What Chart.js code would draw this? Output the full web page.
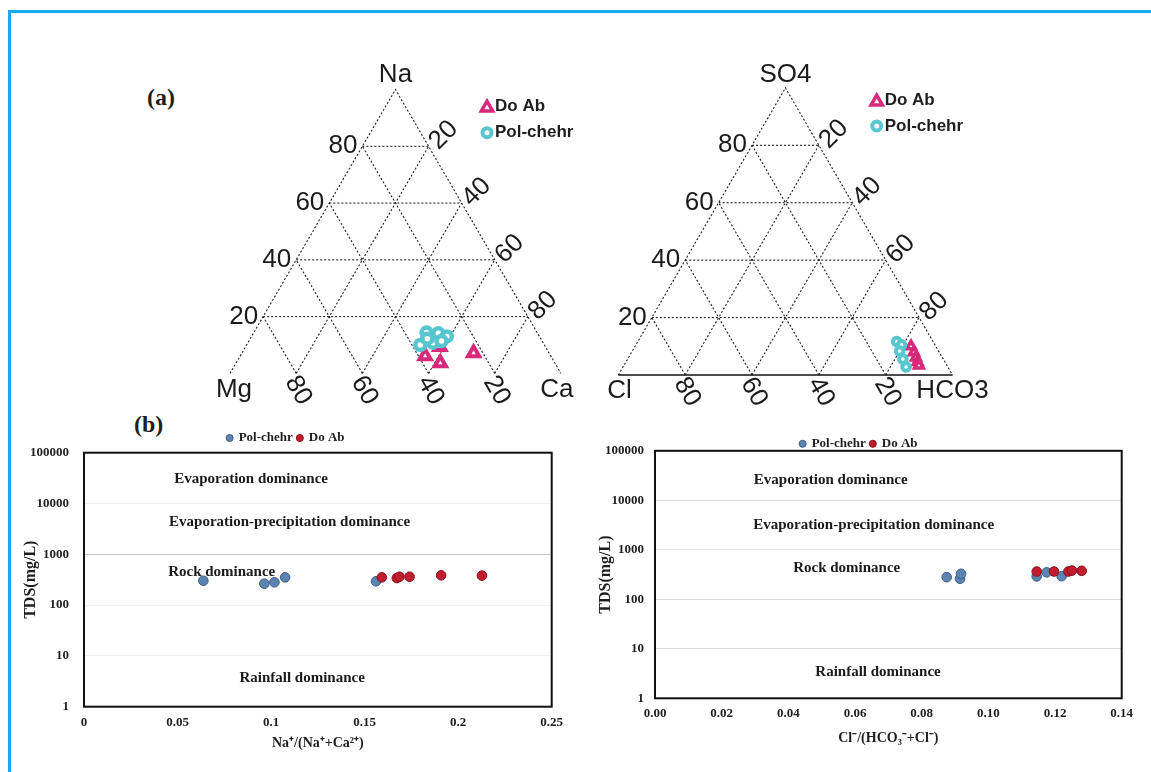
<!DOCTYPE html>
<html>
<head>
<meta charset="utf-8">
<title>Ternary and Gibbs diagrams - Do Ab / Pol-chehr</title>
<script src="https://cdn.jsdelivr.net/npm/chart.js@4.4.1/dist/chart.umd.min.js"></script>
<style>
  html, body { margin: 0; padding: 0; background: #fff; }
  #page { position: relative; width: 1151px; height: 772px; overflow: hidden; background: #fff; }
  #frame { position: absolute; left: 8px; top: 10px; width: 1170px; height: 790px;
           border-top: 3px solid #17aaf0; border-left: 3px solid #17aaf0; }
  .panel { position: absolute; }
  .tag { position: absolute; font: bold 24px 'Liberation Serif', 'Times New Roman', serif; color: #1e1e1e; }
</style>
</head>
<body>
<div id="page">
  <div id="frame"></div>
  <div class="tag" style="left:147px; top:84px;">(a)</div>
  <div class="tag" style="left:134px; top:411px;">(b)</div>
  <div class="panel" style="left:150px; top:50px;"><canvas id="ternCation" width="440" height="370"></canvas></div>
  <div class="panel" style="left:590px; top:50px;"><canvas id="ternAnion" width="440" height="370"></canvas></div>
  <div class="panel" style="left:20px; top:427px;"><canvas id="gibbsNa" width="560" height="333"></canvas></div>
  <div class="panel" style="left:596px; top:432px;"><canvas id="gibbsCl" width="555" height="328"></canvas></div>
</div>

<script>
// ---------- (a) ternary diagrams, % of meq/L ----------
const gridLevels = ['20', '40', '60', '80'];

// cations: top = Na, right = Ca, left = Mg
const polNa = [14.4, 14.1, 13.0, 10.0, 10.8, 11.4, 12.2];
const polCa = [52.2, 55.9, 59.0, 52.5, 55.9, 58.2, 53.5];
const polMg = [33.4, 30.0, 28.0, 37.5, 33.3, 30.4, 34.3];
const doNa = [6.1, 3.7, 7.2, 9.4];
const doCa = [55.9, 61.7, 70.0, 58.7];
const doMg = [38.0, 34.6, 22.8, 31.9];

// anions: top = SO4, right = HCO3, left = Cl
const polSO4 = [11.6, 10.5, 8.3, 5.5, 2.8];
const polHCO3 = [77.5, 79.5, 80.0, 82.4, 84.7];
const polCl = [10.9, 10.0, 11.7, 12.1, 12.5];
const doSO4 = [10.0, 7.9, 6.1, 4.5, 3.3];
const doHCO3 = [82.6, 84.5, 86.0, 87.3, 88.3];
const doCl = [7.4, 7.6, 7.9, 8.2, 8.4];

// ---------- (b) Gibbs diagrams ----------
const tdsTicks = [1, 10, 100, 1000, 10000, 100000];
const naRatioTicks = ['0', '0.05', '0.1', '0.15', '0.2', '0.25'];
const clRatioTicks = ['0.00', '0.02', '0.04', '0.06', '0.08', '0.10', '0.12', '0.14'];
const regionNames = ['Evaporation dominance', 'Evaporation-precipitation dominance', 'Rock dominance', 'Rainfall dominance'];

const naRatioPol = [0.0638, 0.0964, 0.1018, 0.1075, 0.1561];
const tdsPolNa = [302, 264, 281, 352, 294];
const naRatioDo = [0.1592, 0.1672, 0.1686, 0.1740, 0.1909, 0.2127];
const tdsDoNa = [352, 340, 362, 362, 386, 380];

const clRatioPol = [0.0875, 0.0915, 0.0918, 0.1145, 0.1175, 0.1220];
const tdsPolCl = [280, 260, 327, 290, 350, 293];
const clRatioDo = [0.1145, 0.1197, 0.1240, 0.1251, 0.1280];
const tdsDoCl = [364, 364, 364, 380, 376];

const CYAN = '#58c6ce';
const MAGENTA = '#d8297a';
const SANS = "'Liberation Sans', Arial, sans-serif";
const SERIF = "'Liberation Serif', 'Times New Roman', serif";

Chart.defaults.font.family = SERIF;
Chart.defaults.color = '#1e1e1e';

// ternary -> cartesian (x along the base, y up), base length 100
const H = Math.sqrt(3) / 2;
const tern = (top, right) => ({ x: right + top / 2, y: top * H });
const ternPt = (top, right, left) => {
  const s = top + right + left;
  return tern(100 * top / s, 100 * right / s);
};

// labels, corner names and legend of a ternary plot
const ternaryText = {
  id: 'ternaryText',
  afterDraw(chart, args, o) {
    const { ctx, scales: { x, y } } = chart;
    const P = p => [x.getPixelForValue(p.x), y.getPixelForValue(p.y)];
    const put = (txt, px, py, rot, align) => {
      ctx.save();
      ctx.translate(px, py);
      ctx.rotate(rot);
      ctx.textAlign = align;
      ctx.textBaseline = 'middle';
      ctx.fillText(txt, 0, 0);
      ctx.restore();
    };
    ctx.save();
    ctx.fillStyle = '#1b1b1b';
    ctx.font = '26px ' + SANS;
    gridLevels.forEach(lv => {
      const v = Number(lv);
      let [px, py] = P(tern(v, 0));              // left edge: top component
      put(lv, px - 5, py, 0, 'right');
      [px, py] = P(tern(100 - v, v));            // right edge: right component
      put(lv, px + 15, py - 11, -Math.PI / 4, 'center');
      [px, py] = P(tern(0, 100 - v));            // base: left component
      put(lv, px + 2, py + 17, Math.PI / 3, 'center');
    });
    const c = o.corners;
    let [px, py] = P(tern(100, 0));
    put(c[0], px, py - o.topOff, 0, 'center');
    [px, py] = P(tern(0, 0));
    put(c[1], px + o.leftOff, py + 16, 0, 'center');
    [px, py] = P(tern(0, 100));
    put(c[2], px + o.rightOff, py + 16, 0, 'center');

    // legend (triangle = Do Ab, circle = Pol-chehr)
    const ds = chart.data.datasets;
    const lg = o.legend;
    // triangle
    let cx = lg.x, cy = lg.y;
    ctx.beginPath();
    for (let k = 0; k < 3; k++) {
      const a = -Math.PI / 2 + k * 2 * Math.PI / 3;
      const r = 6.5;
      k === 0 ? ctx.moveTo(cx + r * Math.cos(a), cy + 1 + r * Math.sin(a)) : ctx.lineTo(cx + r * Math.cos(a), cy + 1 + r * Math.sin(a));
    }
    ctx.closePath();
    ctx.lineWidth = 3.5;
    ctx.fillStyle = '#fff'; ctx.fill();
    ctx.strokeStyle = MAGENTA; ctx.stroke();
    // circle
    cy = lg.y + lg.dy;
    ctx.beginPath(); ctx.arc(cx, cy, 4.5, 0, 2 * Math.PI);
    ctx.lineWidth = 4;
    ctx.fillStyle = '#fff'; ctx.fill();
    ctx.strokeStyle = CYAN; ctx.stroke();
    ctx.fillStyle = '#1e1e1e';
    ctx.font = 'bold 17px ' + SANS;
    put(ds[1].label, lg.x + 8, lg.y, 0, 'left');
    put(ds[0].label, lg.x + 8, lg.y + lg.dy, 0, 'left');
    ctx.restore();
  }
};

function ternaryChart(id, cfg) {
  const dotted = { showLine: true, pointRadius: 0, borderColor: '#1f1f1f', borderWidth: 1.1, borderDash: [2, 2], order: 10 };
  const segs = [];
  gridLevels.map(Number).forEach(t => {
    segs.push([tern(t, 0), tern(t, 100 - t)]);
    segs.push([tern(0, t), tern(100 - t, t)]);
    segs.push([tern(0, 100 - t), tern(100 - t, 0)]);
  });
  const datasets = [
    { label: 'Pol-chehr', data: cfg.pol, pointStyle: 'circle', pointRadius: cfg.circleR, borderWidth: cfg.circleW,
      borderColor: CYAN, backgroundColor: '#fff', order: 0 },
    { label: 'Do Ab', data: cfg.doab, pointStyle: 'triangle', pointRadius: cfg.triR, borderWidth: cfg.triW,
      borderColor: MAGENTA, backgroundColor: '#fff', order: 1 },
    ...segs.map(s => ({ ...dotted, data: s })),
    { ...dotted, data: [tern(0, 0), tern(100, 0), tern(0, 100)] }
  ];
  if (cfg.solidBase) {
    datasets.push({ showLine: true, pointRadius: 0, borderColor: '#111', borderWidth: 1.5, order: 9,
      data: [tern(0, 0), tern(0, 100)] });
  }
  return new Chart(document.getElementById(id), {
    type: 'scatter',
    data: { datasets },
    options: {
      responsive: false, animation: false, events: [],
      layout: { padding: 0 },
      plugins: { legend: { display: false }, tooltip: { enabled: false }, ternaryText: cfg.text },
      scales: {
        x: { type: 'linear', display: false, min: cfg.xMin, max: cfg.xMin + 440 / 3.475 },
        y: { type: 'linear', display: false, min: -11.02, max: -11.02 + 370 / 3.475 }
      }
    },
    plugins: [ternaryText]
  });
}

ternaryChart('ternCation', {
  xMin: -21.01, circleR: 5, circleW: 4.5, triR: 6.5, triW: 4, solidBase: false,
  pol: polNa.map((v, i) => ternPt(v, polCa[i], polMg[i])),
  doab: doNa.map((v, i) => ternPt(v, doCa[i], doMg[i])),
  text: { corners: ['Na', 'Mg', 'Ca'], topOff: 15, leftOff: 4, rightOff: -4,
          legend: { x: 337, y: 56.7, dy: 26 } }
});

ternaryChart('ternAnion', {
  xMin: -5.96, circleR: 3.8, circleW: 4, triR: 5, triW: 3.5, solidBase: true,
  pol: polSO4.map((v, i) => ternPt(v, polHCO3[i], polCl[i])),
  doab: doSO4.map((v, i) => ternPt(v, doHCO3[i], doCl[i])),
  text: { corners: ['SO4', 'Cl', 'HCO3'], topOff: 13, leftOff: 1, rightOff: 0,
          legend: { x: 286.7, y: 50.7, dy: 25.3 } }
});

// ---------- Gibbs plots ----------
const plotFrame = {
  id: 'plotFrame',
  afterDatasetsDraw(chart) {
    const { ctx, chartArea: a } = chart;
    ctx.save();
    ctx.strokeStyle = '#111';
    ctx.lineWidth = 2;
    ctx.strokeRect(a.left, a.top, a.right - a.left, a.bottom - a.top);
    ctx.restore();
  }
};

const regionLabels = {
  id: 'regionLabels',
  beforeDatasetsDraw(chart, args, o) {
    const { ctx, scales: { x, y } } = chart;
    ctx.save();
    ctx.font = 'bold 15px ' + SERIF;
    ctx.fillStyle = '#1a1a1a';
    ctx.textAlign = 'center';
    ctx.textBaseline = 'middle';
    regionNames.forEach((name, i) => {
      const at = o.at[i];
      ctx.fillText(name, x.getPixelForValue(at[0]), y.getPixelForValue(at[1]));
    });
    ctx.restore();
  }
};

function gibbsChart(id, cfg) {
  return new Chart(document.getElementById(id), {
    type: 'scatter',
    data: {
      datasets: [
        { label: 'Pol-chehr', data: cfg.polX.map((v, i) => ({ x: v, y: cfg.polY[i] })), order: 2,
          backgroundColor: '#5b84b2', borderColor: '#3c5d85', borderWidth: 1, pointRadius: 4.8 },
        { label: 'Do Ab', data: cfg.doX.map((v, i) => ({ x: v, y: cfg.doY[i] })), order: 1,
          backgroundColor: '#c21c2f', borderColor: '#87101f', borderWidth: 1, pointRadius: 4.8 }
      ]
    },
    options: {
      responsive: false, animation: false, events: [],
      layout: { padding: { top: 0, right: cfg.padRight, left: 0, bottom: 0 } },
      plugins: {
        legend: {
          maxHeight: cfg.legendH,
          labels: { usePointStyle: true, pointStyle: 'circle', boxWidth: 5, boxHeight: 5, padding: 4.5,
                    color: '#1e1e1e', font: { size: 13, weight: 'bold' },
                    sort: (a, b) => a.datasetIndex - b.datasetIndex }
        },
        tooltip: { enabled: false },
        regionLabels: { at: cfg.regions }
      },
      scales: {
        x: {
          type: 'linear', min: 0, max: Number(cfg.xTicks[cfg.xTicks.length - 1]),
          grid: { display: false, drawTicks: false }, border: { display: false },
          afterBuildTicks: s => { s.ticks = cfg.xTicks.map(t => ({ value: Number(t) })); },
          afterFit: s => { s.height = cfg.xAxisH; },
          ticks: { autoSkip: false, maxRotation: 0, padding: 8, color: '#1e1e1e',
                   font: { size: 13, weight: 'bold' }, callback: (v, i) => cfg.xTicks[i] },
          title: { display: true, text: cfg.xTitle, color: '#1e1e1e', font: { size: 14, weight: 'bold' },
                   padding: { top: 0, bottom: cfg.xTitlePad } }
        },
        y: {
          type: 'logarithmic', min: 1, max: 100000,
          grid: { drawTicks: false, lineWidth: 1, color: c => (c.tick && c.tick.value === 1000) ? cfg.gridMain : cfg.gridMinor },
          border: { display: false },
          afterBuildTicks: s => { s.ticks = tdsTicks.map(v => ({ value: v })); },
          afterFit: s => { s.width = cfg.yAxisW; },
          ticks: { autoSkip: false, padding: cfg.yTickPad, color: '#1e1e1e', font: { size: 13, weight: 'bold' },
                   callback: v => String(v) },
          title: { display: true, text: 'TDS(mg/L)', color: '#1e1e1e', font: { size: 16, weight: 'bold' },
                   padding: { top: cfg.yTitlePad, bottom: 0 } }
        }
      }
    },
    plugins: [regionLabels, plotFrame]
  });
}

gibbsChart('gibbsNa', {
  polX: naRatioPol, polY: tdsPolNa, doX: naRatioDo, doY: tdsDoNa,
  xTicks: naRatioTicks, xTitle: 'Na\u207A/(Na\u207A+Ca\u00B2\u207A)',
  padRight: 28.3, legendH: 25.7, xAxisH: 53.3, xTitlePad: 8.6, yAxisW: 64, yTickPad: 15, yTitlePad: 1.4,
  gridMain: '#c6c6c6', gridMinor: '#f0f0f0',
  regions: [[0.0893, 30350], [0.1099, 4385], [0.0736, 454], [0.1166, 3.67]]
});

gibbsChart('gibbsCl', {
  polX: clRatioPol, polY: tdsPolCl, doX: clRatioDo, doY: tdsDoCl,
  xTicks: clRatioTicks, xTitle: 'Cl\u207B/(HCO\u2083\u207B+Cl\u207B)',
  padRight: 29.3, legendH: 18, xAxisH: 61.7, xTitlePad: 13.6, yAxisW: 59, yTickPad: 11, yTitlePad: 0.1,
  gridMain: '#e6e6e6', gridMinor: '#dadada',
  regions: [[0.0527, 25480], [0.0656, 3215], [0.0575, 432], [0.0669, 3.43]]
});
</script>
</body>
</html>
